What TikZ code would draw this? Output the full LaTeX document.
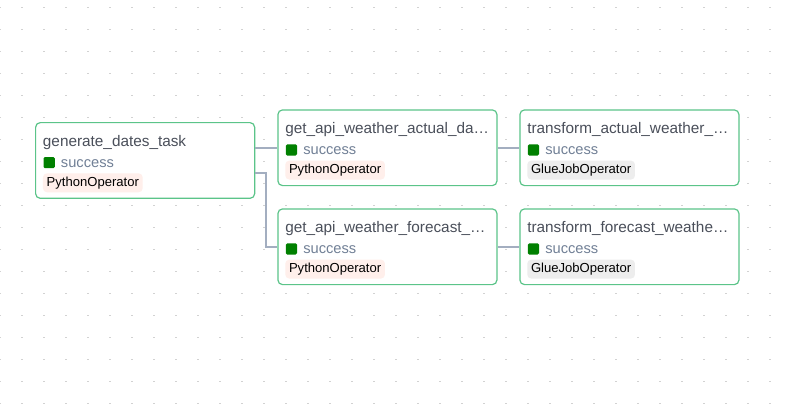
\documentclass[tikz,border=0pt]{standalone}
\usepackage{fontspec}
\setmainfont{Liberation Sans}
\usetikzlibrary{calc}
\definecolor{dotc}{HTML}{D2D2D2}
\definecolor{boxborder}{HTML}{5BC489}
\definecolor{edgec}{HTML}{A3AEC0}
\definecolor{titlec}{HTML}{4A4F5A}
\definecolor{succtext}{HTML}{718096}
\definecolor{succsq}{HTML}{008000}
\definecolor{pybg}{HTML}{FFEFEB}
\definecolor{gluebg}{HTML}{EDEDED}
\tikzset{
  taskbox/.style={draw=boxborder, line width=0.9pt, fill=white, rounded corners=3.5pt,
    minimum width=164.3pt, minimum height=56.8pt, anchor=north west, inner sep=0pt},
  tasktitle/.style={anchor=mid west, inner sep=0pt, text=titlec, font=\fontsize{11.5pt}{13pt}\selectfont},
  succbox/.style={fill=succsq, rounded corners=1pt, minimum size=8.4pt, inner sep=0pt, anchor=west},
  succlabel/.style={anchor=mid west, inner sep=0pt, text=succtext, font=\fontsize{11pt}{13pt}\selectfont},
  opbadge/.style={anchor=west, rounded corners=3pt, inner xsep=2.8pt, inner ysep=0pt,
    minimum height=14.2pt, text=black, font=\fontsize{9.8pt}{11pt}\selectfont},
  edge/.style={draw=edgec, line width=1.6pt}
}
\newcommand{\taskcard}[5]{%
  \node[taskbox] (#1) at (#2) {};
  \node[tasktitle] (#1-title) at ($(#1.north west)+(7.7,21)$) {#3};
  \node[succbox] (#1-sq) at ($(#1.north west)+(8.3,40.6)$) {};
  \node[succlabel] (#1-st) at ($(#1.north west)+(25.7,41.6)$) {success};
  \node[opbadge, fill=#5] (#1-op) at ($(#1.north west)+(7.7,60.8)$) {#4};
}
\begin{document}
\begin{tikzpicture}[x=0.75pt,y=-0.75pt]
\useasboundingbox (0,0) rectangle (786,414);
\fill[white] (0,0) rectangle (786,414);
\foreach \i in {0,...,35}{
  \foreach \j in {0,...,18}{
    \fill[dotc] ({22*\i-0.65},{7.3+22*\j-0.65}) rectangle ++(1.3,1.3);
  }
}
\taskcard{gen}{35,122}{generate\_dates\_task}{PythonOperator}{pybg}
\taskcard{act}{277.3,109.3}{get\_api\_weather\_actual\_da…}{PythonOperator}{pybg}
\taskcard{tact}{519.3,109.3}{transform\_actual\_weather\_…}{GlueJobOperator}{gluebg}
\taskcard{fc}{277.3,208.3}{get\_api\_weather\_forecast\_…}{PythonOperator}{pybg}
\taskcard{tfc}{519.3,208.3}{transform\_forecast\_weathe…}{GlueJobOperator}{gluebg}
\draw[edge] (gen.east |- act.west) -- (act.west);
\draw[edge] ([yshift=-9.5pt]gen.east) -- ++(11,0) |- (fc.west);
\draw[edge] (act.east) -- (tact.west);
\draw[edge] (fc.east) -- (tfc.west);
\end{tikzpicture}
\end{document}
